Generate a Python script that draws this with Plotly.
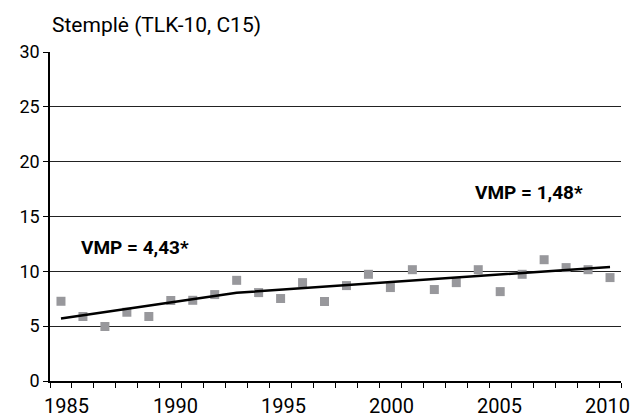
import plotly.graph_objects as go

years = list(range(1985, 2011))
rates = [7.27, 5.88, 4.97, 6.27, 5.88, 7.34, 7.36, 7.88, 9.18, 8.06,
         7.52, 8.97, 7.25, 8.70, 9.73, 8.52, 10.15, 8.34, 8.97, 10.15,
         8.15, 9.73, 11.06, 10.34, 10.15, 9.43]
trend_years = [1985, 1993, 2010]
trend_values = [5.7, 8.05, 10.4]
x_tick_labels = ["1985", "1990", "1995", "2000", "2005", "2010"]
x_label_pos = [1985.23, 1990.22, 1995.11, 2000.03, 2004.98, 2009.9]
title_text = "Stemplė (TLK-10, C15)"
apc_labels = ["VMP = 4,43*", "VMP = 1,48*"]
apc_pos = [(1988.35, 12.2), (2006.29, 17.2)]

FONT = "Roboto"
XFONT = "Liberation Sans Narrow, Roboto"
X0, X1 = 1984.5, 2010.5

fig = go.Figure()
fig.add_trace(go.Scatter(
    x=years, y=rates, mode="markers",
    marker=dict(symbol="square", size=9, color="#98989c", line=dict(width=0)),
    showlegend=False, cliponaxis=False))
fig.add_trace(go.Scatter(
    x=trend_years, y=trend_values, mode="lines",
    line=dict(color="black", width=2.5), showlegend=False))

annotations = []
for lab, xp in zip(x_tick_labels, x_label_pos):
    annotations.append(dict(x=xp, y=0, xref="x", yref="paper", text=lab,
                            showarrow=False, xanchor="center", yanchor="middle",
                            yshift=-25, font=dict(family=XFONT, size=20, color="black")))
for lab, (xp, yp) in zip(apc_labels, apc_pos):
    annotations.append(dict(x=xp, y=yp, xref="x", yref="y", text="<b>" + lab + "</b>",
                            showarrow=False, xanchor="center", yanchor="middle",
                            font=dict(family=FONT, size=19, color="black")))
annotations.append(dict(x=0, y=1, xref="paper", yref="paper", text=title_text,
                        showarrow=False, xanchor="left", yanchor="middle",
                        xshift=0, yshift=27, font=dict(family=FONT, size=21, color="black")))

fig.update_layout(
    width=630, height=419,
    margin=dict(l=50, r=9, t=52, b=38),
    paper_bgcolor="white", plot_bgcolor="white",
    font=dict(family=FONT, size=18, color="black"),
    annotations=annotations,
    xaxis=dict(range=[X0, X1], showgrid=False, zeroline=False,
               showticklabels=False, ticks="outside", tick0=X0, dtick=1,
               ticklen=5, tickcolor="black", tickwidth=1,
               showline=True, linecolor="black", linewidth=1.5),
    yaxis=dict(range=[0, 30], tickvals=[0, 5, 10, 15, 20, 25, 30],
               showgrid=True, gridcolor="#222222", gridwidth=1, zeroline=False,
               ticks="outside", ticklen=5, tickcolor="black", tickwidth=1,
               showline=True, linecolor="black", linewidth=1.5,
               tickfont=dict(family=FONT, size=18, color="black")),
)

fig.write_html("out.html")
